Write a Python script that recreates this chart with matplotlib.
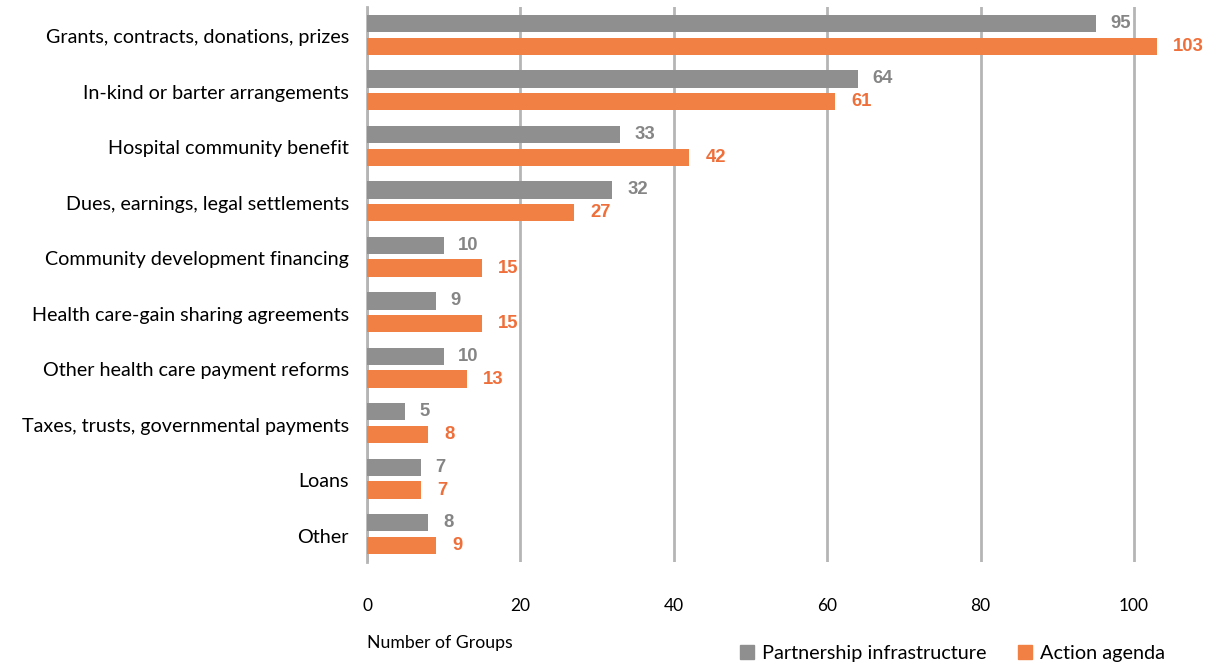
import matplotlib
matplotlib.use('Agg')
import matplotlib.pyplot as plt
import matplotlib.transforms as mtransforms
import numpy as np
from matplotlib.patches import Patch

# Funding sources, top to bottom
categories = [
    'Grants, contracts, donations, prizes',
    'In-kind or barter arrangements',
    'Hospital community benefit',
    'Dues, earnings, legal settlements',
    'Community development financing',
    'Health care-gain sharing agreements',
    'Other health care payment reforms',
    'Taxes, trusts, governmental payments',
    'Loans',
    'Other',
]
partnership = [95, 64, 33, 32, 10, 9, 10, 5, 7, 8]
action = [103, 61, 42, 27, 15, 15, 13, 8, 7, 9]
x_ticks = [0, 20, 40, 60, 80, 100]

GRAY = '#8f8f8f'
ORANGE = '#f08043'
GRAY_TXT = '#858585'
ORANGE_TXT = '#ef6f3a'
GRID = '#b5b5b5'

plt.rcParams['font.family'] = ['Lato', 'DejaVu Sans']

fig = plt.figure(figsize=(12.17, 6.68), dpi=100)
ax = fig.add_axes([0.3016, 0.1587, 0.668, 0.8308])

y = np.arange(len(categories))
h = 0.315
off = 0.207
ax.barh(y - off, partnership, height=h, color=GRAY, zorder=3)
ax.barh(y + off, action, height=h, color=ORANGE, zorder=3)

for yi, v in zip(y, partnership):
    ax.text(v + 1.9, yi - off, str(v), va='center', ha='left', fontsize=13.3,
            fontweight='bold', color=GRAY_TXT, family='Liberation Sans')
for yi, v in zip(y, action):
    ax.text(v + 2.1, yi + off, str(v), va='center', ha='left', fontsize=13.3,
            fontweight='bold', color=ORANGE_TXT, family='Liberation Sans')

ax.set_ylim(len(categories) - 0.5, -0.5)
ax.set_xlim(0, 106)
ax.set_yticks(y)
ax.set_yticklabels(categories, fontsize=14.2, va='center')
ax.set_xticks(x_ticks)
ax.set_xticklabels([str(t) for t in x_ticks], fontsize=12.5)
ax.tick_params(axis='y', length=0, pad=13)
ax.tick_params(axis='x', length=0, pad=26)

# nudge category labels down a little
shift = mtransforms.ScaledTranslation(0, -3 / 100, fig.dpi_scale_trans)
for lab in ax.get_yticklabels():
    lab.set_transform(lab.get_transform() + shift)

for s in ['top', 'right', 'bottom']:
    ax.spines[s].set_visible(False)
ax.spines['left'].set_color(GRID)
ax.spines['left'].set_linewidth(2)
ax.xaxis.grid(True, color=GRID, linewidth=2)
ax.set_axisbelow(True)

fig.text(367 / 1217, 1 - 643 / 668, 'Number of Groups', fontsize=12.7,
         va='center', ha='left')

handles = [Patch(color=GRAY), Patch(color=ORANGE)]
fig.legend(handles, ['Partnership infrastructure', 'Action agenda'],
           loc='center right', bbox_to_anchor=(1173 / 1217, 1 - 653 / 668),
           ncol=2, frameon=False, fontsize=14.3, handlelength=0.7,
           handleheight=0.7, handletextpad=0.4, columnspacing=1.6,
           borderaxespad=0)

fig.savefig('out.png', dpi=100)
